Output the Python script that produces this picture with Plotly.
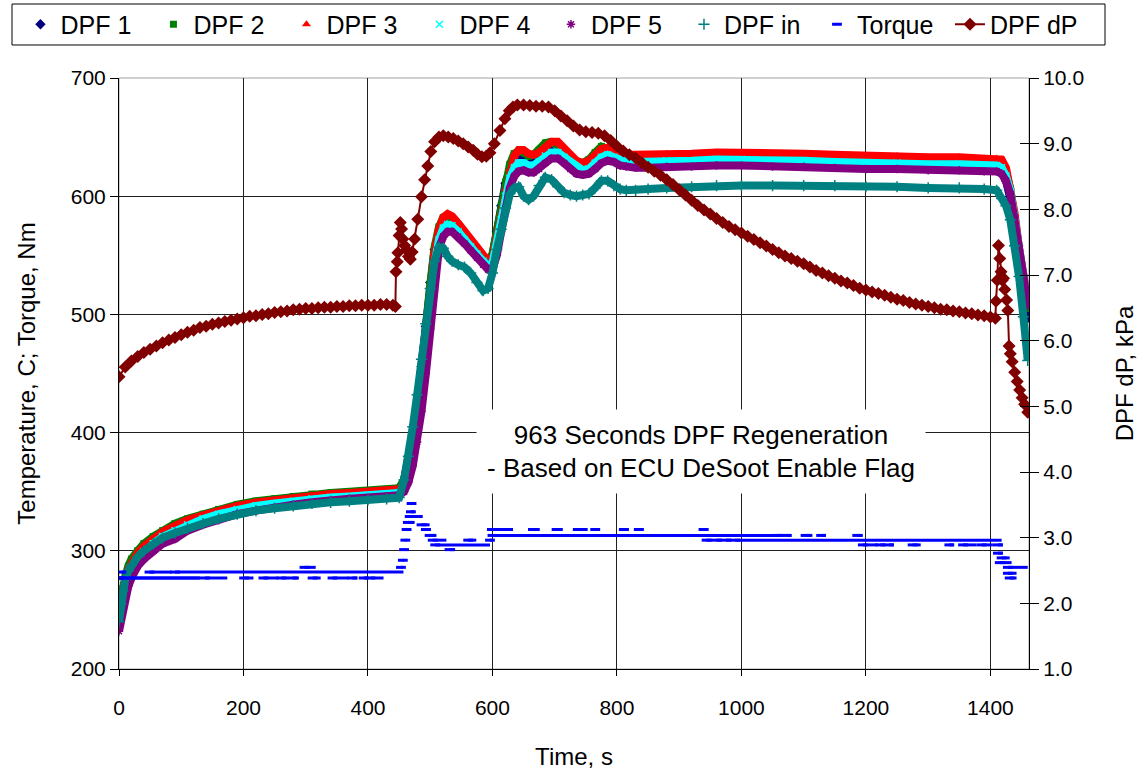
import plotly.graph_objects as go

# ---------------------------------------------------------------- data
# sample times for the DPF temperature channels, s
t_temp = [0, 3, 6, 10, 15, 20, 30, 40, 55, 70, 90, 110, 135, 160, 190, 220, 250, 280, 310, 340,
          370, 400, 430, 450, 458, 465, 472, 479, 486, 493, 500, 507, 514, 521, 528, 535, 545,
          555, 565, 575, 585, 593, 600, 607, 614, 621, 628, 635, 642, 650, 658, 666, 675, 685,
          695, 705, 715, 725, 735, 745, 755, 765, 775, 785, 795, 805, 815, 830, 850, 880, 920,
          960, 1000, 1050, 1100, 1150, 1200, 1250, 1300, 1350, 1390, 1410, 1418, 1425, 1432,
          1439, 1446, 1453, 1460]

dpf1 = [240, 252, 263, 273, 282, 289, 297, 303, 309, 315, 320, 325, 329, 333, 337, 340, 342, 344,
        346, 347, 348, 349, 350, 351, 360, 376, 398, 424, 456, 490, 527, 555, 568, 574, 575, 574,
        569, 563, 557, 551, 546, 543, 550, 570, 592, 611, 623, 629, 631, 630, 628, 628, 631, 636,
        638, 636, 632, 627, 624, 623, 625, 630, 634, 634, 631, 629, 628, 628, 628, 629, 629, 630,
        630, 629, 629, 628, 627, 627, 626, 626, 625, 625, 622, 613, 598, 576, 551, 522, 497]

dpf2 = [248, 258, 268, 278, 287, 293, 300, 306, 312, 317, 323, 327, 331, 335, 339, 342, 344, 346,
        348, 349, 350, 351, 352, 353, 360, 374, 394, 418, 449, 484, 525, 557, 574, 582, 583, 581,
        575, 568, 561, 554, 548, 545, 551, 570, 592, 612, 627, 636, 638, 637, 634, 635, 639, 645,
        646, 643, 637, 632, 628, 628, 631, 637, 642, 640, 637, 634, 633, 633, 633, 634, 634, 634,
        634, 634, 633, 633, 632, 632, 631, 631, 630, 630, 628, 621, 606, 584, 556, 530, 505]

dpf3 = [245, 255, 265, 275, 284, 290, 298, 304, 310, 316, 321, 326, 330, 334, 338, 341, 343, 345,
        347, 348, 349, 350, 351, 352, 356, 368, 386, 408, 438, 470, 515, 552, 572, 582, 585, 583,
        577, 570, 563, 556, 549, 545, 547, 565, 586, 606, 623, 634, 639, 639, 636, 635, 637, 642,
        646, 646, 641, 635, 630, 628, 630, 635, 640, 641, 639, 636, 635, 635, 635, 636, 636, 637,
        637, 636, 636, 635, 634, 634, 633, 633, 632, 632, 631, 624, 608, 585, 556, 531, 510]

dpf4 = [236, 247, 258, 268, 278, 285, 293, 299, 306, 312, 317, 322, 327, 331, 335, 338, 340, 342,
        344, 345, 346, 347, 348, 349, 354, 365, 383, 405, 434, 466, 508, 543, 563, 573, 576, 575,
        570, 563, 557, 551, 545, 541, 543, 560, 580, 600, 615, 624, 628, 628, 626, 626, 629, 634,
        637, 637, 633, 628, 624, 622, 623, 628, 633, 635, 633, 630, 629, 629, 629, 630, 630, 631,
        631, 630, 630, 629, 628, 628, 627, 627, 626, 626, 624, 617, 604, 583, 557, 532, 508]

dpf5 = [232, 240, 250, 260, 270, 277, 287, 293, 300, 306, 310, 317, 322, 326, 331, 334, 337, 339,
        341, 343, 344, 345, 346, 347, 350, 358, 372, 392, 418, 450, 488, 528, 556, 566, 570, 570,
        566, 560, 554, 548, 542, 538, 538, 550, 570, 590, 607, 617, 621, 622, 620, 620, 623, 628,
        632, 632, 628, 623, 619, 618, 619, 623, 628, 630, 629, 626, 625, 624, 624, 625, 625, 626,
        626, 625, 625, 624, 623, 623, 622, 622, 621, 621, 619, 613, 602, 582, 558, 533, 507]

dpf_in = [240, 255, 266, 276, 283, 288, 295, 300, 306, 311, 315, 319, 323, 327, 331, 334, 336, 338,
          340, 341, 342, 343, 344, 345, 360, 380, 405, 432, 462, 492, 522, 545, 557, 556, 549, 545,
          542, 540, 535, 527, 520, 522, 535, 555, 572, 590, 602, 607, 608, 600, 597, 600, 609, 616,
          614, 608, 603, 601, 600, 601, 602, 607, 613, 613, 609, 606, 605, 605, 606, 607, 608, 609,
          609, 609, 609, 609, 608, 608, 607, 607, 606, 605, 598, 592, 580, 558, 532, 498, 461]

# engine torque, Nm: runs of constant logged value (start s, end s, level)
torque_t0 = [0, 1, 4, 49, 90, 138, 201, 232, 261, 279, 298, 311, 343, 375, 393, 404,
             453, 456, 458, 460, 462, 464, 467, 469, 470, 486, 493, 499, 504, 508, 531, 561, 596,
             599, 600, 665, 703, 737, 765, 811, 835, 939, 944, 960, 975, 990,
             1057, 1073, 1103, 1128, 1186, 1195, 1223, 1237, 1275, 1334, 1356, 1386, 1412,
             1412, 1418, 1415, 1428, 1428, 1431]
torque_t1 = [130, 130, 9, 85, 457, 174, 216, 256, 272, 289, 316, 324, 369, 383, 401, 425,
             456, 458, 460, 462, 464, 475, 488, 475, 472, 499, 501, 510, 526, 596, 540, 574, 599,
             633, 1057, 676, 713, 753, 773, 819, 843, 947, 953, 968, 984, 1418,
             1067, 1079, 1114, 1135, 1195, 1219, 1231, 1245, 1288, 1341, 1378, 1404, 1420,
             1420, 1431, 1434, 1460, 1442, 1442]
torque_nm = [277, 277, 282, 282, 282, 277, 277, 277, 277, 277, 286, 277, 277, 277, 277, 277,
             286, 292, 301, 309, 318, 324, 329, 333, 340, 322, 318, 313, 309, 305, 301, 309, 309,
             318, 313, 318, 318, 318, 318, 318, 318, 318, 309, 309, 309, 309,
             313, 313, 313, 313, 313, 305, 305, 305, 305, 305, 305, 305, 305,
             298, 294, 290, 286, 281, 277]

# pressure drop across the DPF, kPa
t_dp = [0, 10, 20, 30, 40, 50, 60, 70, 80, 90, 100, 110, 120, 130, 140, 150, 160, 170, 180, 190,
        200, 210, 220, 230, 240, 250, 260, 270, 280, 290, 300, 310, 320, 330, 340, 350, 360, 370,
        380, 390, 400, 410, 420, 430, 440, 444, 445, 447, 448, 450, 452, 454, 456, 459, 462, 465,
        468, 471, 475, 480, 486, 491, 496, 501, 507, 514, 521, 529, 537, 545, 553, 561, 569, 576,
        583, 590, 596, 603, 612, 620, 627, 633, 640, 650, 660, 670, 680, 690, 700, 710, 720, 730,
        740, 750, 760, 770, 780, 790, 800, 810, 820, 830, 840, 850, 860, 870, 880, 890, 900, 910,
        920, 930, 940, 950, 960, 970, 980, 990, 1000, 1010, 1020, 1030, 1040, 1050, 1060, 1070,
        1080, 1090, 1100, 1110, 1120, 1130, 1140, 1150, 1160, 1170, 1180, 1190, 1200, 1210, 1220,
        1230, 1240, 1250, 1260, 1270, 1280, 1290, 1300, 1310, 1320, 1330, 1340, 1350, 1360, 1370,
        1380, 1390, 1400, 1408, 1409, 1411, 1413, 1415, 1417, 1419, 1421, 1423, 1426, 1428, 1430,
        1432, 1435, 1439, 1443, 1447, 1451, 1455, 1460]
dpf_dp = [5.45, 5.60, 5.69, 5.76, 5.82, 5.87, 5.92, 5.97, 6.01, 6.05, 6.09, 6.13, 6.16, 6.20, 6.22,
          6.25, 6.27, 6.29, 6.31, 6.33, 6.35, 6.37, 6.38, 6.40, 6.41, 6.43, 6.44, 6.45, 6.47, 6.48,
          6.49, 6.49, 6.50, 6.51, 6.51, 6.52, 6.52, 6.53, 6.53, 6.54, 6.54, 6.54, 6.55, 6.55, 6.54,
          6.52, 7.05, 7.20, 7.34, 7.60, 7.80, 7.70, 7.55, 7.45, 7.38, 7.28, 7.24, 7.35, 7.55, 7.85,
          8.19, 8.45, 8.66, 8.88, 9.03, 9.10, 9.12, 9.10, 9.08, 9.04, 9.00, 8.95, 8.90, 8.84, 8.80,
          8.81, 8.86, 9.00, 9.20, 9.38, 9.50, 9.56, 9.59, 9.59, 9.58, 9.57, 9.57, 9.56, 9.50, 9.42,
          9.35, 9.27, 9.21, 9.18, 9.17, 9.16, 9.12, 9.05, 8.96, 8.89, 8.83, 8.78, 8.71, 8.64, 8.58,
          8.52, 8.45, 8.38, 8.30, 8.22, 8.14, 8.06, 7.99, 7.93, 7.86, 7.80, 7.74, 7.69, 7.64, 7.59,
          7.54, 7.49, 7.44, 7.39, 7.34, 7.29, 7.25, 7.21, 7.17, 7.12, 7.07, 7.03, 6.99, 6.95, 6.91,
          6.88, 6.84, 6.80, 6.77, 6.74, 6.72, 6.69, 6.66, 6.63, 6.61, 6.58, 6.56, 6.54, 6.52, 6.50,
          6.48, 6.47, 6.45, 6.44, 6.42, 6.41, 6.39, 6.38, 6.36, 6.34, 6.60, 6.92, 7.45, 7.25, 7.05,
          6.92, 6.95, 6.78, 6.62, 6.46, 5.92, 5.80, 5.68, 5.52, 5.38, 5.25, 5.13, 5.03, 4.91]

x_ticks = [0, 200, 400, 600, 800, 1000, 1200, 1400]

# ---------------------------------------------------------------- styling
FONT = "Liberation Sans, Arial, sans-serif"
temp_series = [
    ("DPF 1", dpf1, "#000080", "diamond", 8, "legend"),
    ("DPF 2", dpf2, "#008000", "square", 7, "legend"),
    ("DPF 3", dpf3, "#FF0000", "triangle-up", 8, "legend"),
    ("DPF 4", dpf4, "#00FFFF", "x-thin", 7, "legend"),
    ("DPF 5", dpf5, "#800080", "asterisk", 7, "legend2"),
    ("DPF in", dpf_in, "#008080", "cross-thin", 8, "legend2"),
]

fig = go.Figure()

for name, vals, color, sym, msize, leg in temp_series:
    # dense logged samples read as a solid band
    fig.add_trace(go.Scatter(
        x=t_temp, y=vals, mode="lines", showlegend=False, hoverinfo="skip",
        line=dict(color=color, width=8), legendgroup=name))
    fig.add_trace(go.Scatter(
        x=t_temp, y=vals, mode="markers", name=name, legendgroup=name, legend=leg,
        marker=dict(symbol=sym, size=msize, color=color,
                    line=dict(color=color, width=1.5 if "thin" in sym or sym == "asterisk" else 0))))

# torque runs drawn as short horizontal strokes
tq_x, tq_y = [], []
for a, b, v in zip(torque_t0, torque_t1, torque_nm):
    tq_x += [a, b, None]
    tq_y += [v, v, None]
fig.add_trace(go.Scatter(x=tq_x, y=tq_y, mode="lines", showlegend=False, hoverinfo="skip",
                         line=dict(color="#0000FF", width=3), legendgroup="Torque"))
fig.add_trace(go.Scatter(x=torque_t0, y=torque_nm, mode="markers", name="Torque",
                         legendgroup="Torque", legend="legend2",
                         marker=dict(symbol="line-ew", size=7, color="#0000FF",
                                     line=dict(color="#0000FF", width=3))))

fig.add_trace(go.Scatter(x=t_dp, y=dpf_dp, mode="lines+markers", name="DPF dP", yaxis="y2",
                         legend="legend2",
                         line=dict(color="#800000", width=2),
                         marker=dict(symbol="diamond", size=10, color="#800000")))

# carrier for the inner half of the right-hand tick marks
fig.add_trace(go.Scatter(x=[None], y=[None], yaxis="y3", showlegend=False, hoverinfo="skip"))

axis_font = dict(family=FONT, size=21, color="black")
title_font = dict(family=FONT, size=24, color="black")
legend_font = dict(family=FONT, size=25, color="black")

# both halves of the key share one frame drawn as a shape
legend_common = dict(orientation="h", xanchor="left", yanchor="middle", y=1.0905,
                     bgcolor="rgba(0,0,0,0)", borderwidth=0, font=legend_font,
                     entrywidth=88, tracegroupgap=0)

fig.update_layout(
    width=1138, height=770,
    margin=dict(l=119, r=109, t=78, b=101, autoexpand=False),
    paper_bgcolor="white", plot_bgcolor="white",
    font=dict(family=FONT, size=21, color="black"),
    showlegend=True,
    legend=dict(x=-0.1083, **legend_common),
    legend2=dict(x=0.4747, **legend_common),
    xaxis=dict(range=[0, 1462], tickvals=x_ticks, ticks="outside", ticklen=6,
               tickcolor="black", showline=True, linecolor="black", linewidth=1,
               showgrid=True, gridcolor="#202020", gridwidth=1, zeroline=False,
               tickfont=axis_font, ticklabelstandoff=14,
               title=dict(text="Time, s", font=title_font, standoff=30)),
    yaxis=dict(range=[200, 700], dtick=100, ticks="outside", ticklen=8, tickcolor="black",
               showline=True, linecolor="black", linewidth=1,
               showgrid=True, gridcolor="#202020", gridwidth=1, zeroline=False,
               tickfont=axis_font,
               title=dict(text="Temperature, C; Torque, Nm", font=title_font, standoff=28)),
    yaxis2=dict(range=[1, 10], dtick=1, tickformat=".1f", overlaying="y", side="right",
                ticks="outside", ticklen=9, tickcolor="black", showline=True,
                linecolor="black", linewidth=1, showgrid=False, zeroline=False,
                tickfont=axis_font,
                title=dict(text="DPF dP, kPa", font=title_font, standoff=33)),
    yaxis3=dict(range=[1, 10], dtick=1, overlaying="y", side="right", ticks="inside",
                ticklen=9, tickcolor="black", showline=False, showgrid=False,
                zeroline=False, showticklabels=False),
    shapes=[
        dict(type="rect", xref="paper", yref="paper", x0=0, x1=1, y0=0, y1=1,
             line=dict(color="#A0A0A0", width=1), layer="below"),
        dict(type="rect", xref="paper", yref="paper", x0=-0.11758, x1=1.08352,
             y0=1.05584, y1=1.12521, line=dict(color="#000000", width=1),
             fillcolor="rgba(0,0,0,0)", layer="above"),
    ],
    annotations=[dict(
        text="963 Seconds DPF Regeneration<br>- Based on ECU DeSoot Enable Flag",
        xref="paper", yref="paper", x=0.6396, y=0.368, xanchor="center", yanchor="middle",
        showarrow=False, align="center", bgcolor="white", width=448, height=83,
        borderpad=0, font=dict(family=FONT, size=26, color="black"))],
)

fig.write_html("out.html")
